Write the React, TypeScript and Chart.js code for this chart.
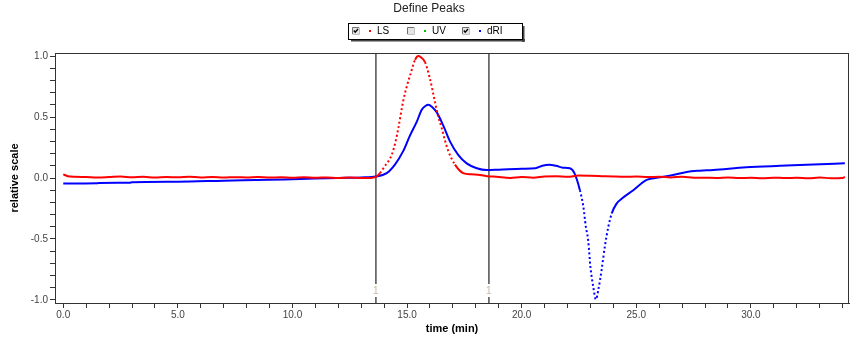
import React, { useEffect, useRef } from 'react';
import { Chart, registerables } from 'chart.js';

Chart.register(...registerables);

// ---------- data ----------
const lsTime = [
  0.0, 0.2, 0.5, 1.0, 1.5, 2.0, 2.5, 3.0, 3.5, 4.0, 4.5, 5.0, 5.5, 6.0, 6.5, 7.0, 7.5, 8.0, 8.5, 9.0,
  9.5, 10.0, 10.5, 11.0, 11.5, 12.0, 12.5, 13.0, 13.5, 13.65, 13.82, 14.0, 14.33, 14.5, 14.62, 14.83,
  15.0, 15.13, 15.35, 15.49, 15.6, 15.78, 15.99, 16.21, 16.35, 16.51, 16.65, 16.8, 17.09, 17.45, 17.8,
  18.18, 18.5, 18.9, 19.5, 20.0, 20.5, 21.0, 21.5, 22.0, 22.5, 23.0, 23.5, 24.0, 24.5, 25.0, 25.5,
  26.0, 26.5, 27.0, 27.5, 28.0, 28.5, 29.0, 29.5, 30.0, 30.5, 31.0, 31.5, 32.0, 32.5, 33.0, 33.5,
  34.0, 34.1,
];
const lsValue = [
  0.03, 0.015, 0.01, 0.008, 0.005, 0.008, 0.012, 0.006, 0.01, 0.004, 0.008, 0.006, 0.01, 0.005, 0.008,
  0.004, 0.007, 0.005, 0.009, 0.004, 0.006, 0.003, 0.006, 0.002, 0.005, 0.001, 0.004, 0.0, 0.003, 0.01,
  0.04, 0.09, 0.19, 0.3, 0.41, 0.63, 0.76, 0.84, 0.97, 1.0, 0.99, 0.95, 0.82, 0.63, 0.51, 0.41, 0.31,
  0.22, 0.11, 0.04, 0.03, 0.025, 0.015, 0.01, 0.0, 0.008, 0.003, 0.012, 0.015, 0.01, 0.02, 0.018,
  0.015, 0.012, 0.01, 0.012, 0.008, 0.01, 0.005, 0.01, 0.003, 0.002, 0.0, 0.005, 0.0, 0.002, -0.002,
  0.003, 0.0, 0.002, -0.003, 0.004, -0.002, 0.0, 0.01,
];

const driTime = [
  0.0, 1.5, 1.55, 2.9, 3.0, 5.0, 7.0, 9.0, 10.0, 11.0, 12.0, 13.0, 13.64, 14.11, 14.47, 14.83, 15.13,
  15.42, 15.64, 15.8, 15.93, 16.1, 16.29, 16.58, 16.87, 17.23, 17.6, 18.04, 18.47, 19.0, 20.0, 20.6,
  20.9, 21.2, 21.5, 21.8, 22.1, 22.3, 22.54, 22.69, 22.8, 22.9, 23.0, 23.12, 23.24, 23.34, 23.49,
  23.63, 23.78, 23.93, 24.14, 24.36, 24.87, 25.45, 26.03, 26.6, 27.2, 27.78, 28.36, 29.8, 31.27,
  32.72, 34.1,
];
const driValue = [
  -0.045, -0.043, -0.04, -0.038, -0.035, -0.03, -0.022, -0.015, -0.01, -0.005, 0.0, 0.005, 0.012,
  0.04, 0.11, 0.22, 0.35, 0.46, 0.56, 0.59, 0.6, 0.58, 0.54, 0.43, 0.3, 0.19, 0.12, 0.08, 0.065,
  0.068, 0.075, 0.08, 0.1, 0.108, 0.1, 0.085, 0.08, 0.04, -0.1, -0.235, -0.4, -0.51, -0.73, -0.89,
  -0.995, -0.92, -0.75, -0.56, -0.4, -0.29, -0.21, -0.17, -0.1, -0.016, 0.005, 0.025, 0.05, 0.06,
  0.066, 0.088, 0.1, 0.11, 0.12,
];

const peakMarkers = [13.64, 18.57];
const peakMarkerLabels = ['1', '1'];

const xTickValues = [
  0, 1, 2, 3, 4, 5, 6, 7, 8, 9, 10, 11, 12, 13, 14, 15, 16, 17, 18, 19, 20, 21, 22, 23, 24, 25, 26, 27,
  28, 29, 30, 31, 32, 33, 34,
];
const xTickLabels: Record<number, string> = { 0: '0.0', 5: '5.0', 10: '10.0', 15: '15.0', 20: '20.0', 25: '25.0', 30: '30.0' };
const yTickValues = [
  -1.0, -0.9, -0.8, -0.7, -0.6, -0.5, -0.4, -0.3, -0.2, -0.1, 0.0, 0.1, 0.2, 0.3, 0.4, 0.5, 0.6, 0.7,
  0.8, 0.9, 1.0,
];
const yTickLabels: Record<string, string> = { '-1.0': '-1.0', '-0.5': '-0.5', '0.0': '0.0', '0.5': '0.5', '1.0': '1.0' };

const legendItems = [
  { label: 'LS', color: '#ff0000', checked: true },
  { label: 'UV', color: '#00c000', checked: false },
  { label: 'dRI', color: '#0000ff', checked: true },
];

const FONT = '"Liberation Sans", Arial, sans-serif';

const makeDash = (ratio: number) => (ctx: any) => {
  const dx = Math.abs(ctx.p1.x - ctx.p0.x);
  const dy = Math.abs(ctx.p1.y - ctx.p0.y);
  return dy > ratio * Math.max(dx, 0.01) ? [2, 2.5] : undefined;
};

const decorPlugin = {
  id: 'decor',
  beforeDatasetsDraw(chart: any) {
    const { ctx, chartArea, scales } = chart;
    ctx.save();
    ctx.strokeStyle = '#5a5a5a';
    ctx.lineWidth = 1.6;
    peakMarkers.forEach((t, i) => {
      const x = scales.x.getPixelForValue(t);
      ctx.beginPath();
      ctx.moveTo(x, chartArea.top);
      ctx.lineTo(x, chartArea.bottom - 19);
      ctx.moveTo(x, chartArea.bottom - 6);
      ctx.lineTo(x, chartArea.bottom);
      ctx.stroke();
      ctx.fillStyle = '#c8b8a0';
      ctx.font = `10px ${FONT}`;
      ctx.textAlign = 'center';
      ctx.textBaseline = 'middle';
      ctx.fillText(peakMarkerLabels[i], x, chartArea.bottom - 12);
    });
    ctx.restore();
  },
  afterDraw(chart: any) {
    const { ctx, chartArea } = chart;
    ctx.save();
    // plot frame
    ctx.strokeStyle = '#333';
    ctx.lineWidth = 1;
    ctx.strokeRect(
      Math.round(chartArea.left) + 0.5,
      Math.round(chartArea.top) + 0.5,
      Math.round(chartArea.right - chartArea.left) - 1,
      Math.round(chartArea.bottom - chartArea.top)
    );
    // title
    ctx.fillStyle = '#222';
    ctx.font = `12px ${FONT}`;
    ctx.textAlign = 'center';
    ctx.textBaseline = 'middle';
    ctx.fillText('Define Peaks', 429, 9);
    // legend box with shadow
    const bx = 348, by = 23, bw = 174, bh = 16;
    ctx.fillStyle = '#444';
    ctx.fillRect(bx + 3, by + bh, bw, 2.5);
    ctx.fillRect(bx + bw, by + 3, 2.5, bh);
    ctx.fillStyle = '#fff';
    ctx.fillRect(bx, by, bw, bh);
    ctx.strokeStyle = '#000';
    ctx.lineWidth = 1;
    ctx.strokeRect(bx + 0.5, by + 0.5, bw, bh);
    const starts = [352, 407, 462];
    legendItems.forEach((it, i) => {
      const cx = starts[i];
      const cy = 27;
      ctx.fillStyle = '#e4e4e4';
      ctx.fillRect(cx, cy, 7, 7);
      ctx.strokeStyle = '#707070';
      ctx.beginPath();
      ctx.moveTo(cx + 0.5, cy + 7);
      ctx.lineTo(cx + 0.5, cy + 0.5);
      ctx.lineTo(cx + 7, cy + 0.5);
      ctx.stroke();
      ctx.strokeStyle = '#c0c0c0';
      ctx.beginPath();
      ctx.moveTo(cx + 7.5, cy + 0.5);
      ctx.lineTo(cx + 7.5, cy + 7.5);
      ctx.lineTo(cx + 0.5, cy + 7.5);
      ctx.stroke();
      if (it.checked) {
        ctx.strokeStyle = '#000';
        ctx.lineWidth = 1.3;
        ctx.beginPath();
        ctx.moveTo(cx + 1.8, cy + 3.5);
        ctx.lineTo(cx + 3.2, cy + 5.2);
        ctx.lineTo(cx + 6, cy + 2);
        ctx.stroke();
        ctx.lineWidth = 1;
      }
      ctx.fillStyle = it.color;
      ctx.fillRect(cx + 17, cy + 3, 2, 2);
      ctx.fillStyle = '#000';
      ctx.font = `10px ${FONT}`;
      ctx.textAlign = 'left';
      ctx.textBaseline = 'middle';
      ctx.fillText(it.label, cx + 25, cy + 4);
    });
    ctx.restore();
  },
};

export default function App() {
  const canvasRef = useRef<HTMLCanvasElement | null>(null);

  useEffect(() => {
    const canvas = canvasRef.current;
    if (!canvas) return;
    const lsData = lsTime.map((t, i) => ({ x: t, y: lsValue[i] }));
    const driData = driTime.map((t, i) => ({ x: t, y: driValue[i] }));

    const chart = new Chart(canvas, {
      type: 'line',
      data: {
        datasets: [
          {
            label: 'LS',
            data: lsData,
            borderColor: '#ff0000',
            backgroundColor: '#ff0000',
            borderWidth: 2,
            pointRadius: 0,
            cubicInterpolationMode: 'monotone',
            segment: { borderDash: makeDash(1.2) },
          },
          {
            label: 'dRI',
            data: driData,
            borderColor: '#0000ff',
            backgroundColor: '#0000ff',
            borderWidth: 2,
            pointRadius: 0,
            cubicInterpolationMode: 'monotone',
            segment: { borderDash: makeDash(3.5) },
          },
        ],
      },
      options: {
        responsive: false,
        animation: false,
        parsing: false as any,
        layout: { padding: { top: 53, right: 11, left: 0, bottom: 0 } },
        plugins: {
          legend: { display: false },
          title: { display: false },
          tooltip: { enabled: false },
        },
        scales: {
          x: {
            type: 'linear',
            min: -0.36,
            max: 34.28,
            afterFit: (axis: any) => {
              axis.height = 35;
            },
            afterBuildTicks: (axis: any) => {
              axis.ticks = xTickValues.map((v) => ({ value: v }));
            },
            ticks: {
              autoSkip: false,
              maxRotation: 0,
              padding: 1,
              color: '#444',
              font: { family: FONT, size: 10 },
              callback: (v: any) => xTickLabels[Math.round(Number(v))] ?? '',
            },
            grid: { drawOnChartArea: false, tickLength: 5, color: '#333' },
            border: { display: true, color: '#333' },
            title: {
              display: true,
              text: 'time (min)',
              color: '#000',
              font: { family: FONT, size: 11, weight: 'bold' },
              padding: { top: 0, bottom: 2 },
            },
          },
          y: {
            type: 'linear',
            min: -1.025,
            max: 1.025,
            afterFit: (axis: any) => {
              axis.width = 55;
            },
            afterBuildTicks: (axis: any) => {
              axis.ticks = yTickValues.map((v) => ({ value: v }));
            },
            ticks: {
              autoSkip: false,
              padding: 2,
              color: '#444',
              font: { family: FONT, size: 10 },
              callback: (v: any) => yTickLabels[Number(v).toFixed(1)] ?? '',
            },
            grid: { drawOnChartArea: false, tickLength: 5, color: '#333' },
            border: { display: true, color: '#333' },
            title: {
              display: true,
              text: 'relative scale',
              color: '#000',
              font: { family: FONT, size: 11, weight: 'bold' },
              padding: { top: 8, bottom: 0 },
            },
          },
        },
      },
      plugins: [decorPlugin],
    } as any);

    return () => chart.destroy();
  }, []);

  return (
    <div style={{ position: 'fixed', left: 0, top: 0, width: 860, height: 338, background: '#fff' }}>
      <canvas ref={canvasRef} width={860} height={338} style={{ width: 860, height: 338 }} />
    </div>
  );
}
